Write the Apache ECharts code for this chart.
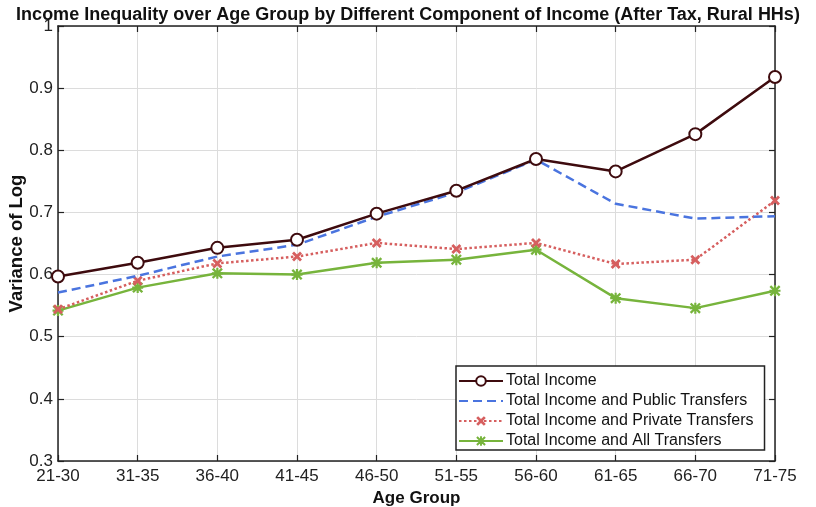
<!DOCTYPE html>
<html><head><meta charset="utf-8">
<script src="https://cdn.jsdelivr.net/npm/echarts@6/dist/echarts.min.js"></script>
<style>html,body{margin:0;padding:0;background:#fff}#c{width:816px;height:507px}</style>
</head><body><div id="c"></div>
<script>
const categories = ['21-30','31-35','36-40','41-45','46-50','51-55','56-60','61-65','66-70','71-75'];
const totalIncome = [0.597,0.619,0.643,0.656,0.698,0.735,0.786,0.766,0.826,0.918];
const publicTransfers = [0.571,0.598,0.629,0.648,0.693,0.732,0.785,0.714,0.690,0.694];
const privateTransfers = [0.544,0.590,0.618,0.629,0.651,0.641,0.651,0.617,0.624,0.719];
const allTransfers = [0.542,0.579,0.602,0.600,0.619,0.624,0.640,0.562,0.546,0.574];
const seriesNames = ['Total Income','Total Income and Public Transfers','Total Income and Private Transfers','Total Income and All Transfers'];

const FONT = '"Liberation Sans", Arial, Helvetica, sans-serif';
const xSym = 'path://M2,0 L5,3 L8,0 L10,2 L7,5 L10,8 L8,10 L5,7 L2,10 L0,8 L3,5 L0,2 Z';
const starSym = 'path://M4,0 H6 V4 H10 V6 H6 V10 H4 V6 H0 V4 H4 Z M1.5,0 L5,3.5 L8.5,0 L10,1.5 L6.5,5 L10,8.5 L8.5,10 L5,6.5 L1.5,10 L0,8.5 L3.5,5 L0,1.5 Z';

const chart = echarts.init(document.getElementById('c'));
const catAxisBase = {
  type: 'category', data: categories, boundaryGap: false,
  axisLine: {lineStyle: {color: '#222', width: 1.5}},
  axisTick: {inside: true, length: 6, lineStyle: {color: '#222', width: 1.2}, alignWithLabel: true}
};
const valAxisBase = {
  type: 'value', min: 0.3, max: 1, interval: 0.1,
  axisLine: {show: true, lineStyle: {color: '#222', width: 1.5}},
  axisTick: {show: true, inside: true, length: 6, lineStyle: {color: '#222', width: 1.2}}
};
chart.setOption({
  animation: false,
  backgroundColor: '#fff',
  title: {
    text: 'Income Inequality over Age Group by Different Component of Income (After Tax, Rural HHs)',
    left: 'center', top: 1,
    textStyle: {fontFamily: FONT, fontSize: 18, fontWeight: 'bold', color: '#111'}
  },
  grid: {left: 58, right: 41, top: 26, bottom: 46, containLabel: false, outerBoundsMode: 'none'},
  xAxis: [
    Object.assign({}, catAxisBase, {
      position: 'bottom',
      name: 'Age Group', nameLocation: 'middle', nameGap: 29, nameMoveOverlap: false,
      nameTextStyle: {fontFamily: FONT, fontSize: 17, fontWeight: 'bold', color: '#111'},
      axisLabel: {fontFamily: FONT, fontSize: 17, color: '#222', margin: 7},
      splitLine: {show: true, lineStyle: {color: '#dcdcdc', width: 1}}
    }),
    Object.assign({}, catAxisBase, {position: 'top', axisLabel: {show: false}, splitLine: {show: false}})
  ],
  yAxis: [
    Object.assign({}, valAxisBase, {
      position: 'left',
      name: 'Variance of Log', nameLocation: 'middle', nameGap: 32, nameMoveOverlap: false,
      nameTextStyle: {fontFamily: FONT, fontSize: 18.5, fontWeight: 'bold', color: '#111'},
      axisLabel: {fontFamily: FONT, fontSize: 17, color: '#222', margin: 5,
        formatter: v => String(+v.toFixed(1))},
      splitLine: {show: true, lineStyle: {color: '#dcdcdc', width: 1}}
    }),
    Object.assign({}, valAxisBase, {position: 'right', axisLabel: {show: false}, splitLine: {show: false}})
  ],
  legend: {
    orient: 'vertical', left: 456, top: 366,
    padding: [7, 11, 1, 2],
    itemGap: 4, itemWidth: 44, itemHeight: 12,
    backgroundColor: '#fff', borderColor: '#222', borderWidth: 1.5, borderRadius: 0,
    textStyle: {fontFamily: FONT, fontSize: 16, color: '#111', padding: [0,0,0,-2]},
    data: [
      {name: seriesNames[0]},
      {name: seriesNames[1], itemStyle: {opacity: 0}},
      {name: seriesNames[2]},
      {name: seriesNames[3]}
    ]
  },
  series: [
    {name: seriesNames[0], type: 'line', data: totalIncome, z: 5,
      symbol: 'emptyCircle', symbolSize: 12,
      lineStyle: {color: '#3e0b0e', width: 2.5},
      itemStyle: {color: '#3e0b0e', borderColor: '#3e0b0e', borderWidth: 2}},
    {name: seriesNames[1], type: 'line', data: publicTransfers, z: 4,
      symbol: 'none', showSymbol: false,
      lineStyle: {color: '#4a74df', width: 2.5, type: [9, 5]},
      itemStyle: {color: '#4a74df'}},
    {name: seriesNames[2], type: 'line', data: privateTransfers, z: 3,
      symbol: xSym, symbolSize: 10,
      lineStyle: {color: '#d65f5f', width: 2.5, type: [2.5, 2.5]},
      itemStyle: {color: '#d65f5f'}},
    {name: seriesNames[3], type: 'line', data: allTransfers, z: 2,
      symbol: starSym, symbolSize: 11,
      lineStyle: {color: '#77b43c', width: 2.5},
      itemStyle: {color: '#77b43c'}}
  ]
});
</script></body></html>
